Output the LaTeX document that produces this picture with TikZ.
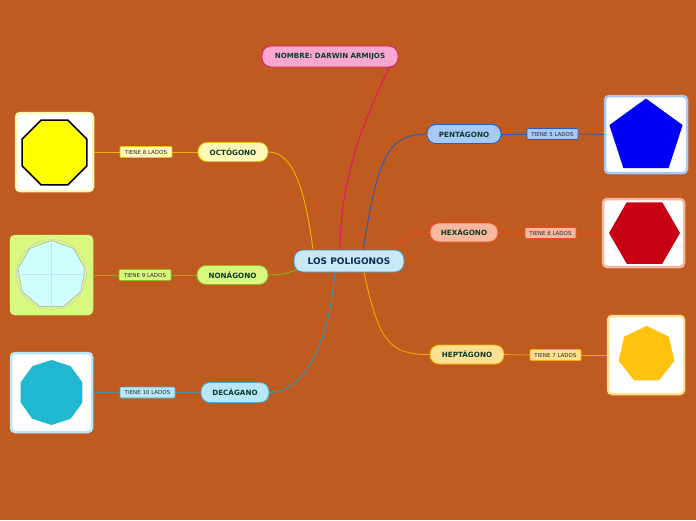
\documentclass[tikz,border=0pt]{standalone}
\usepackage{fontspec}
\setmainfont{DejaVu Sans}
\usetikzlibrary{calc}
\definecolor{bg}{HTML}{BF5B20}
\definecolor{txt}{HTML}{0B3B2B}
\definecolor{nomF}{HTML}{F8A8D0}\definecolor{nomD}{HTML}{E8106A}
\definecolor{cenF}{HTML}{C8E8F8}\definecolor{cenD}{HTML}{3A90C8}\definecolor{cenT}{HTML}{0E2A50}
\definecolor{octF}{HTML}{FFF8B8}\definecolor{octD}{HTML}{E8C800}\definecolor{octL}{HTML}{E8B800}
\definecolor{nonF}{HTML}{D8F880}\definecolor{nonD}{HTML}{88C020}\definecolor{nonL}{HTML}{80B818}
\definecolor{decF}{HTML}{B8E8F8}\definecolor{decD}{HTML}{48A8D0}\definecolor{decL}{HTML}{3098C0}
\definecolor{penF}{HTML}{A8C8F8}\definecolor{penD}{HTML}{2060C8}\definecolor{penL}{HTML}{2858B8}
\definecolor{hexF}{HTML}{F8B8A0}\definecolor{hexD}{HTML}{F05020}\definecolor{hexL}{HTML}{F04820}
\definecolor{hepF}{HTML}{FFE090}\definecolor{hepD}{HTML}{F0B000}\definecolor{hepL}{HTML}{F0A800}
\definecolor{octY}{HTML}{FFFF00}
\definecolor{nonC}{HTML}{D0FFFF}
\definecolor{decC}{HTML}{20B8D0}
\definecolor{penC}{HTML}{0000F8}
\definecolor{hexC}{HTML}{C80014}
\definecolor{hepC}{HTML}{FFC20E}
\tikzset{
  mainnode/.style={rounded corners=9pt, line width=0.8pt, minimum height=19pt, inner sep=0pt, font=\fontsize{7.2}{8}\selectfont\bfseries, text=txt},
  lbl/.style={rounded corners=1pt, line width=0.6pt, minimum height=11pt, inner sep=0pt, font=\fontsize{5.5}{6}\selectfont, text=black!85},
  imgframe/.style={rounded corners=4pt, line width=2.5pt, inner sep=0pt},
  conn/.style={line width=0.9pt},
  thin/.style={line width=0.7pt}
}
\newcommand{\regpoly}[5]{% color, center, sides, start angle, radius
  \fill[#1] ($(#2)+(#4:#5)$) \foreach \k in {1,...,\numexpr#3-1\relax}{ -- ($(#2)+(#4+\k*360/#3:#5)$)} -- cycle;}
\begin{document}
\begin{tikzpicture}[x=1pt,y=-1pt]
\fill[bg] (0,0) rectangle (696,520);
\useasboundingbox (0,0) rectangle (696,520);

% curved connectors from central node (drawn first, under the nodes)
\node[mainnode, fill=cenF, draw=cenD, text=cenT, minimum width=110pt, minimum height=22pt, font=\fontsize{9}{10}\selectfont\bfseries] (cen) at (349,261) {LOS POLIGONOS};
\node[mainnode, fill=nomF, draw=nomD, minimum width=136pt, minimum height=21pt, font=\fontsize{7.1}{8}\selectfont\bfseries] (nom) at (330,56.5) {NOMBRE: DARWIN ARMIJOS};

% left main nodes
\node[mainnode, fill=octF, draw=octD, minimum width=70pt] (oct) at (233,152) {OCTÓGONO};
\node[mainnode, fill=nonF, draw=nonD, minimum width=71pt] (non) at (232.5,275) {NONÁGONO};
\node[mainnode, fill=decF, draw=decD, minimum width=68pt, minimum height=20pt] (dec) at (235,392.5) {DECÁGANO};
% right main nodes
\node[mainnode, fill=penF, draw=penD, minimum width=74pt] (pen) at (464,134) {PENTÁGONO};
\node[mainnode, fill=hexF, draw=hexD, minimum width=68pt] (hex) at (464,232.5) {HEXÁGONO};
\node[mainnode, fill=hepF, draw=hepD, minimum width=74pt] (hep) at (467,354.5) {HEPTÁGONO};

% labels
\node[lbl, fill=octF, draw=octD, minimum width=52pt] (l8) at (146,152) {TIENE 8 LADOS};
\node[lbl, fill=nonF, draw=nonD, minimum width=52pt] (l9) at (145,275) {TIENE 9 LADOS};
\node[lbl, fill=decF, draw=decD, minimum width=55pt] (l10) at (147.5,392.5) {TIENE 10 LADOS};
\node[lbl, fill=penF, draw=penD, minimum width=51pt] (l5) at (552.5,134) {TIENE 5 LADOS};
\node[lbl, fill=hexF, draw=hexD, minimum width=51pt] (l6) at (550.5,233) {TIENE 6 LADOS};
\node[lbl, fill=hepF, draw=hepD, minimum width=51pt] (l7) at (555.5,355) {TIENE 7 LADOS};

% image frames
\node[imgframe, fill=white, draw=octF, minimum width=77pt, minimum height=78pt] (i8) at (54.5,152) {};
\node[imgframe, fill=nonF, draw=nonF, minimum width=81pt, minimum height=78pt] (i9) at (51.5,275) {};
\node[imgframe, fill=white, draw=decF, minimum width=81pt, minimum height=79pt] (i10) at (51.5,392.5) {};
\node[imgframe, fill=white, draw=penF, minimum width=82pt, minimum height=77pt] (i5) at (646,134.5) {};
\node[imgframe, fill=white, draw=hexF, minimum width=81pt, minimum height=68pt] (i6) at (643.5,233) {};
\node[imgframe, fill=white, draw=hepF, minimum width=76pt, minimum height=78pt] (i7) at (646,355) {};

% polygons
\coordinate (c8) at (54.5,152.5);
\coordinate (c9) at (51.5,274.5);
\coordinate (c10) at (51.5,392.5);
\coordinate (c5) at (646,137);
\coordinate (c6) at (644.5,233);
\coordinate (c7) at (646.5,354.5);
\regpoly{octY}{c8}{8}{22.5}{35pt}
\draw[line width=1.5pt, black, line join=miter] ($(c8)+(22.5:35pt)$) \foreach \k in {1,...,7}{ -- ($(c8)+(22.5+\k*45:35pt)$)} -- cycle;
\regpoly{nonC}{c9}{9}{90}{34pt}
\draw[gray!70, line width=0.5pt] ($(c9)+(90:34pt)$) \foreach \k in {1,...,8}{ -- ($(c9)+(90+\k*40:34pt)$)} -- cycle;
\draw[gray!40, line width=0.4pt] (c9) circle[radius=35pt];
\draw[cyan!30, line width=0.4pt] ($(c9)+(-36pt,0)$) -- ($(c9)+(36pt,0)$);
\draw[cyan!30, line width=0.4pt] ($(c9)+(0,-36pt)$) -- ($(c9)+(0,36pt)$);
\regpoly{decC}{c10}{10}{90}{32.5pt}
\regpoly{penC}{c5}{5}{90}{38.5pt}
\regpoly{hexC}{c6}{6}{0}{35.5pt}
\regpoly{hepC}{c7}{7}{90}{28.6pt}

% curved connectors from central node
\draw[conn, nomD] ([xshift=-9pt]cen.north) .. controls +(0,-90) and +(-8,20) .. ([xshift=59pt]nom.south);
\draw[conn, octL] ([xshift=-36pt]cen.north) .. controls +(-8,-60) and +(25,0) .. (oct.east);
\draw[conn, nonL] ([xshift=-52pt,yshift=3pt]cen.south) .. controls +(-6,2) and +(18,0) .. (non.east);
\draw[conn, decL] ([xshift=-14pt]cen.south) .. controls +(-5,60) and +(40,0) .. (dec.east);
\draw[conn, penL] ([xshift=14pt]cen.north) .. controls +(15,-90) and +(-40,0) .. (pen.west);
\draw[conn, hexL] ([xshift=45pt,yshift=1pt]cen.north) .. controls +(10,-13) and +(-15,0) .. (hex.west);
\draw[conn, hepL] ([xshift=15pt]cen.south) .. controls +(15,70) and +(-40,0) .. (hep.west);

% straight connectors
\draw[thin, octL] (oct.west) -- (l8.east);
\draw[thin, octL] (l8.west) -- (i8.east);
\draw[thin, nonL] (non.west) -- (l9.east);
\draw[thin, nonL] (l9.west) -- (i9.east);
\draw[thin, decL!70!gray] (dec.west) -- (l10.east);
\draw[thin, decL!70!gray] (l10.west) -- (i10.east);
\draw[thin, penL] (pen.east) -- (l5.west);
\draw[thin, penL] (l5.east) -- (i5.west);
\draw[thin, hexL] (hex.east) -- (l6.west);
\draw[thin, hexL] (l6.east) -- (i6.west);
\draw[thin, hepL] (hep.east) -- (l7.west);
\draw[thin, hepL] (l7.east) -- (i7.west);
\end{tikzpicture}
\end{document}
